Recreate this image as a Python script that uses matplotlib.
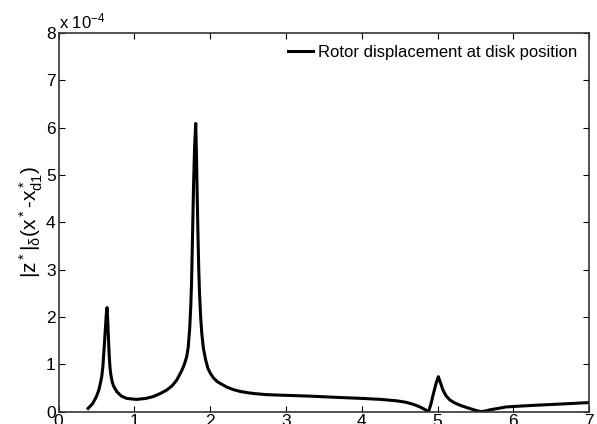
# Rotor displacement response at disk position

import numpy as np
import matplotlib.pyplot as plt

plt.rcParams['font.family'] = ['Liberation Sans', 'DejaVu Sans']
plt.rcParams['mathtext.fontset'] = 'custom'
plt.rcParams['mathtext.rm'] = 'Liberation Sans'
plt.rcParams['mathtext.it'] = 'Liberation Sans'

omega = [0.39, 0.45, 0.50, 0.53, 0.55, 0.57, 0.585, 0.60, 0.61, 0.62, 0.63,
         0.64, 0.65, 0.66, 0.67, 0.68, 0.69, 0.71, 0.73, 0.77, 0.83, 0.90,
         1.03, 1.15, 1.25, 1.35, 1.43, 1.50, 1.56, 1.62, 1.66, 1.69, 1.71,
         1.73, 1.745, 1.755, 1.765, 1.78, 1.795, 1.81, 1.82, 1.83, 1.84,
         1.85, 1.86, 1.875, 1.89, 1.91, 1.94, 1.97, 2.00, 2.04, 2.09, 2.13,
         2.22, 2.30, 2.39, 2.50, 2.60, 2.75, 2.92, 3.30, 3.71, 4.02, 4.25,
         4.46, 4.58, 4.67, 4.74, 4.78, 4.84, 4.88, 4.91, 4.94, 4.98, 5.01,
         5.04, 5.07, 5.11, 5.16, 5.22, 5.29, 5.38, 5.46, 5.52, 5.58, 5.64,
         5.69, 5.80, 5.90, 6.10, 6.34, 6.60, 6.96, 7.00]
disp = [0.07, 0.17, 0.32, 0.45, 0.58, 0.74, 0.95, 1.30, 1.55, 1.80, 2.05,
        2.20, 1.90, 1.50, 1.15, 0.92, 0.78, 0.62, 0.53, 0.42, 0.33, 0.28,
        0.26, 0.28, 0.32, 0.39, 0.46, 0.55, 0.67, 0.85, 1.00, 1.16, 1.35,
        1.75, 2.25, 2.75, 3.50, 4.70, 5.60, 6.09, 5.40, 4.50, 3.70, 3.00,
        2.50, 2.00, 1.65, 1.35, 1.10, 0.92, 0.82, 0.72, 0.64, 0.60, 0.52,
        0.47, 0.43, 0.40, 0.38, 0.36, 0.35, 0.33, 0.30, 0.28, 0.26, 0.23,
        0.20, 0.16, 0.12, 0.09, 0.04, 0.00, 0.15, 0.35, 0.60, 0.74, 0.60,
        0.46, 0.34, 0.25, 0.19, 0.14, 0.09, 0.05, 0.02, 0.00, 0.02, 0.04,
        0.07, 0.10, 0.12, 0.14, 0.16, 0.19, 0.19]

x = np.array(omega)
y = np.array(disp) * 1e-4

fig = plt.figure(figsize=(5.97, 4.24), dpi=100)
ax = fig.add_axes([0.098, 0.029, 0.889, 0.893])

ax.plot(x, y, color='black', lw=2.2, label='Rotor displacement at disk position')

ax.set_xlim(0, 7)
ax.set_ylim(0, 8e-4)
ax.set_xticks(range(0, 8))
ax.set_yticks(np.arange(0, 9) * 1e-4)
ax.set_yticklabels([str(i) for i in range(9)])
ax.tick_params(direction='in', top=True, right=True, labelsize=12.5, length=4,
               width=0.8, pad=2)
for s in ax.spines.values():
    s.set_linewidth(1.2)
    s.set_color('#333333')

ax.set_ylabel(r'|z$^*$|$_{\delta}$(x$^*$-x$^*_{d1}$)', fontsize=15, labelpad=1)
ax.set_xlabel(r'$\omega^*$', fontsize=14, labelpad=2)
ax.text(0.0, 1.005, r'x 10$^{-4}$', transform=ax.transAxes, fontsize=12,
        ha='left', va='bottom')

ax.legend(loc='upper right', frameon=False, fontsize=12, handlelength=1.5,
          handletextpad=0.3, borderaxespad=0.3)

fig.savefig('out.png', dpi=100)
